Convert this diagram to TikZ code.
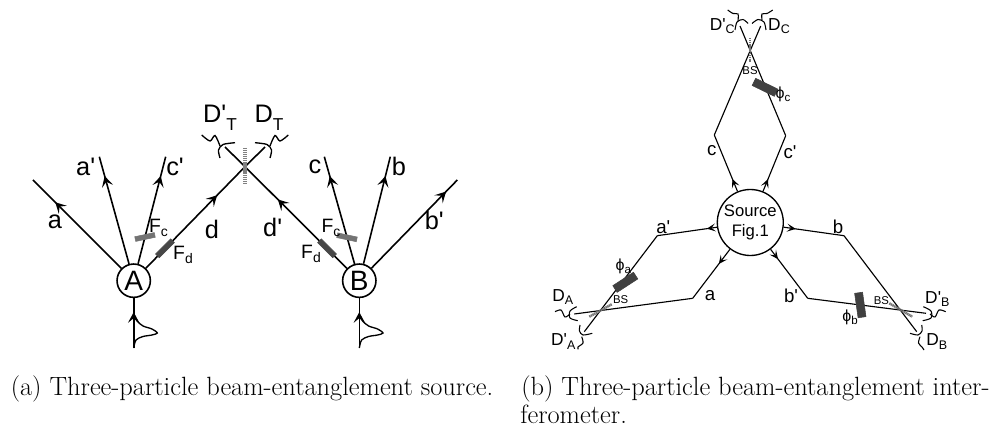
\documentclass[tikz,border=0pt]{standalone}
\usepackage{fontspec}
\usepackage{graphicx}
\usetikzlibrary{arrows.meta,decorations.markings}
\newfontfamily\hv{Liberation Sans}
\newcommand{\sbs}[1]{\raisebox{-0.3em}{\scalebox{0.68}{#1}}}
\newcommand{\sbl}[1]{\raisebox{-0.2em}{\scalebox{0.72}{#1}}}
\tikzset{
  x=0.75pt,y=-0.75pt,
  tipmark/.style={postaction={decorate},decoration={markings,mark=at position #1 with {\arrow{Stealth[length=8pt,width=8.5pt,inset=3.5pt]}}}},
  beamL/.style={draw,line width=1.2pt},
  beamR/.style={draw,line width=0.85pt},
  tipmarkR/.style={postaction={decorate},decoration={markings,mark=at position #1 with {\arrow{Stealth[length=6.5pt,width=6pt,inset=3pt]}}}},
  det/.style={draw,line width=1pt},
  detR/.style={draw,line width=0.8pt},
  hub/.style={circle,draw,line width=1.2pt,fill=white,inner sep=0pt,minimum size=25pt,font=\hv\fontsize{21}{21}\selectfont},
  src/.style={circle,draw,line width=1pt,fill=white,inner sep=0pt,minimum size=49.5pt,align=center,font=\hv\fontsize{12.5}{14.5}\selectfont},
  lab/.style={inner sep=0pt,font=\hv\fontsize{19}{19}\selectfont},
  flab/.style={inner sep=0pt,font=\hv\fontsize{14.5}{14.5}\selectfont},
  dlab/.style={inner sep=0pt,font=\hv\fontsize{19}{19}\selectfont},
  labR/.style={inner sep=0pt,font=\hv\fontsize{14}{14}\selectfont},
  dlabR/.style={inner sep=0pt,font=\hv\fontsize{13}{13}\selectfont},
  phlab/.style={inner sep=0pt,font=\hv\fontsize{12}{12}\selectfont},
  bslab/.style={inner sep=0pt,font=\hv\fontsize{8.5}{8.5}\selectfont},
  filtC/.style={rectangle,fill=black!55,draw=black!55,inner sep=0pt,minimum width=15pt,minimum height=3.6pt},
  filtD/.style={rectangle,fill=black!72,draw=black!72,inner sep=0pt,minimum width=16pt,minimum height=4pt},
  phase/.style={rectangle,fill=black!75,draw=black!75,inner sep=0pt,minimum width=18.5pt,minimum height=6pt},
  split/.style={draw=black!50,line width=3pt,dash pattern=on 1pt off 0.45pt},
  splitR/.style={draw=black!55,line width=1.8pt,dash pattern=on 1pt off 0.4pt},
  captext/.style={inner sep=0pt,anchor=base west,font=\fontsize{19.8}{29}\selectfont}
}
\begin{document}
\begin{tikzpicture}
\useasboundingbox (0,0) rectangle (1002,427);
% ---------- panel (a)
\node[hub] (A) at (133.7,280.7) {A};
\node[hub] (B) at (359.3,280.7) {B};
\coordinate (aE) at (33,180);
\coordinate (apE) at (99.3,156.7);
\coordinate (cpE) at (165.7,156.7);
\coordinate (cE) at (324.3,156.7);
\coordinate (bE) at (390.3,156.7);
\coordinate (bpE) at (457.3,180);
\coordinate (X) at (245,166.7);
\coordinate (dpE) at (225,147);
\coordinate (dE) at (265,147);
\coordinate (inA) at (133.7,348);
\coordinate (inB) at (359.3,348);
\path[beamL,tipmark=0.75] (A) -- (aE);
\path[beamL,tipmark=0.82] (A) -- (apE);
\path[beamL,tipmark=0.82] (A) -- (cpE);
\path[beamL,tipmark=0.72] (A) -- (X);
\path[beamL] (X) -- (dpE);
\path[beamL,tipmark=0.68] (B) -- (X);
\path[beamL] (X) -- (dE);
\path[beamL,tipmark=0.82] (B) -- (cE);
\path[beamL,tipmark=0.82] (B) -- (bE);
\path[beamL,tipmark=0.87] (B) -- (bpE);
\path[beamL,tipmark=0.72] (inA) -- (A);
\path[beamL,tipmark=0.72] (inB) -- (B);
\draw[det] plot[smooth] coordinates {(133.7,348) (136,340) (143,336.5) (152,335) (157.3,333) (152,329) (143,326) (137,321) (134,316)};
\draw[det] plot[smooth] coordinates {(359.3,348) (361.6,340) (368.6,336.5) (377.6,335) (383,333) (377.6,329) (368.6,326) (362.6,321) (359.6,316)};
\draw[split] (245,148) -- (245,184);
\draw[det] plot[smooth] coordinates {(220,158) (218.5,150) (223,144.5) (235,142.7)};
\draw[det] plot[smooth] coordinates {(220,146) (215,135.5) (210,141) (201.7,135)};
\draw[det] plot[smooth] coordinates {(270,158) (271.5,150) (267,144.5) (255,142.7)};
\draw[det] plot[smooth] coordinates {(270,146) (275,135.5) (280,141) (288.3,135)};
\node[filtC,rotate=12] (FcA) at (145,237) {};
\node[filtD,rotate=45] (FdA) at (165,248.3) {};
\node[filtC,rotate=-12] (FcB) at (347,237.3) {};
\node[filtD,rotate=-45] (FdB) at (327,248.3) {};
\node[lab] (la) at (55,221.7) {a};
\node[lab] (lap) at (85.7,166.7) {a'};
\node[lab] (lcp) at (175,166.7) {c'};
\node[lab] (ld) at (212,229) {d};
\node[lab] (ldp) at (272.7,227.7) {d'};
\node[lab] (lc) at (315,166.7) {c};
\node[lab] (lb) at (399,166.7) {b};
\node[lab] (lbp) at (434.3,220) {b'};
\node[flab] (lFc1) at (158.5,228) {F\sbl{c}};
\node[flab] (lFd1) at (183,254.5) {F\sbl{d}};
\node[flab] (lFc2) at (331,227.5) {F\sbl{c}};
\node[flab] (lFd2) at (311,253.5) {F\sbl{d}};
\node[dlab] (lDp) at (220,118) {D'\sbs{T}};
\node[dlab] (lD) at (269,118) {D\sbs{T}};
% ---------- panel (b)
\node[src] (S) at (750.3,222.5) {Source\\Fig.1};
\coordinate (cV) at (714.3,135);
\coordinate (cpV) at (785.7,135.7);
\coordinate (apV) at (657.3,235.7);
\coordinate (aV) at (692.7,298.3);
\coordinate (bV) at (844,235.7);
\coordinate (bpV) at (807.7,298.3);
\coordinate (cEnd) at (760.7,26);
\coordinate (cpEnd) at (740,26);
\coordinate (aEnd) at (574.3,314);
\coordinate (apEnd) at (584.3,331.7);
\coordinate (bEnd) at (916.7,331.7);
\coordinate (bpEnd) at (926,313.3);
\path[beamR,tipmarkR=0.22] (S) -- (cV);
\path[beamR,tipmarkR=0.22] (S) -- (cpV);
\path[beamR,tipmarkR=0.17] (S) -- (apV);
\path[beamR,tipmarkR=0.3] (S) -- (aV);
\path[beamR,tipmarkR=0.2] (S) -- (bV);
\path[beamR,tipmarkR=0.2] (S) -- (bpV);
\path[beamR] (cV) -- (cEnd);
\path[beamR] (cpV) -- (cpEnd);
\path[beamR] (apV) -- (apEnd);
\path[beamR] (aV) -- (aEnd);
\path[beamR] (bV) -- (bEnd);
\path[beamR] (bpV) -- (bpEnd);
\draw[splitR] (749.7,38) -- (749.7,62);
\draw[splitR] (589.3,316.7) -- (611.7,304.3);
\draw[splitR] (889.3,303.3) -- (912.3,316.7);
\node[phase,rotate=-26] (phc) at (765,87.3) {};
\node[phase,rotate=33] (pha) at (625.3,282.3) {};
\node[phase,rotate=-82] (phb) at (860.3,305) {};
% detectors
\draw[detR] plot[smooth] coordinates {(735,30) (737,22) (743,19.5) (748,23.5)};
\draw[detR] plot[smooth] coordinates {(738,21) (738,14) (733,13.5) (727.7,10)};
\draw[detR] plot[smooth] coordinates {(766,30) (764,22) (758,19.5) (752,23.5)};
\draw[detR] plot[smooth] coordinates {(762,20) (762,14) (767,13.5) (772.7,10)};
\draw[detR] plot[smooth] coordinates {(576.7,306.7) (570,311) (570,318) (577.7,320.7)};
\draw[detR] plot[smooth] coordinates {(570,314) (565,317) (561,310) (555,311.7)};
\draw[detR] plot[smooth] coordinates {(580,325) (579.5,331) (583,335) (592.3,333.3)};
\draw[detR] plot[smooth] coordinates {(581.7,336.7) (583,343) (578,347) (578.3,349.3)};
\draw[detR] plot[smooth] coordinates {(923.3,306.7) (931,311) (931,318) (922.7,320.7)};
\draw[detR] plot[smooth] coordinates {(930,314) (935,317) (939,310) (945.7,311.7)};
\draw[detR] plot[smooth] coordinates {(921.7,325) (922,331) (918,335) (910,333.3)};
\draw[detR] plot[smooth] coordinates {(920,336.7) (918.5,343) (922,347) (924,350)};
\node[labR] (lc2) at (711.7,151) {c};
\node[labR] (lcp2) at (790,151.7) {c'};
\node[labR] (lap2) at (663.3,227.3) {a'};
\node[labR] (la2) at (710,296) {a};
\node[labR] (lb2) at (838,226.7) {b};
\node[labR] (lbp2) at (791,296) {b'};
\node[phlab] (lphc) at (783,94) {ϕ\sbl{c}};
\node[phlab] (lpha) at (623.3,266) {ϕ\sbl{a}};
\node[phlab] (lphb) at (850,317) {ϕ\sbl{b}};
\node[dlabR] (lDC1) at (722.3,26) {D'\sbl{C}};
\node[dlabR] (lDC2) at (779,26) {D\sbl{C}};
\node[dlabR] (lDA1) at (562.7,297) {D\sbl{A}};
\node[dlabR] (lDA2) at (563.3,341.5) {D'\sbl{A}};
\node[dlabR] (lDB1) at (937.3,299) {D'\sbl{B}};
\node[dlabR] (lDB2) at (936.7,341.5) {D\sbl{B}};
\node[bslab] (bsC) at (750,70.7) {BS};
\node[bslab] (bsA) at (620.7,300) {BS};
\node[bslab] (bsB) at (881.3,300.7) {BS};
% ---------- captions
\node[captext] (capA) at (10.5,395) {(a) Three-particle beam-entanglement source.};
\node[captext] (capB) at (521,395) {(b) Three-particle beam-entanglement inter-};
\node[captext] (capC) at (520,423) {ferometer.};
\end{tikzpicture}
\end{document}
